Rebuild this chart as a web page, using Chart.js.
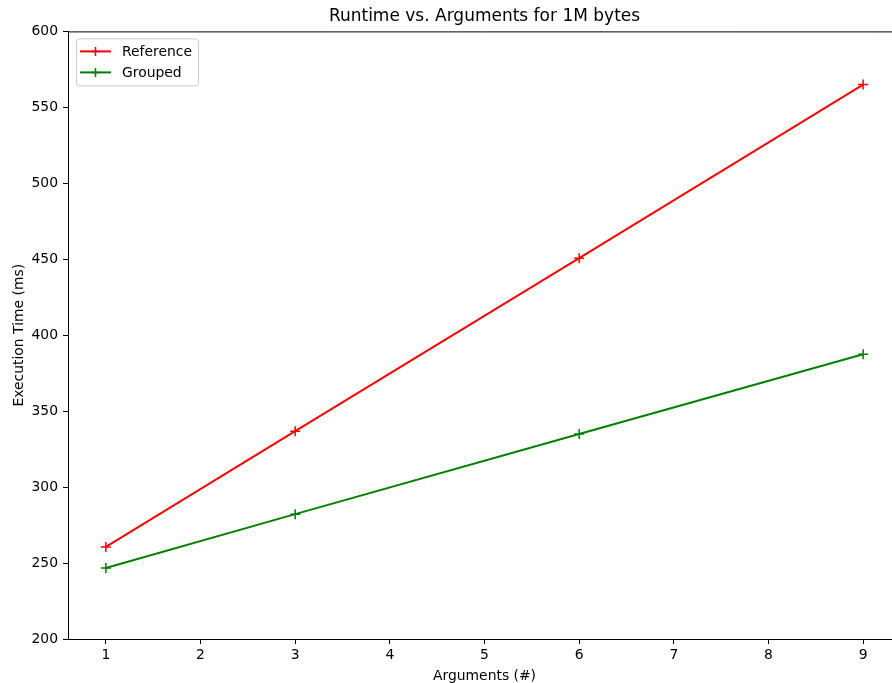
<!DOCTYPE html>
<html>
<head>
<meta charset="utf-8">
<script src="https://cdn.jsdelivr.net/npm/chart.js@4.4.0/dist/chart.umd.min.js"></script>
<style>
  html, body { margin: 0; padding: 0; background: #fff; overflow: hidden; width: 892px; height: 683px; }
  #wrap { width: 892px; height: 683px; overflow: hidden; position: relative; }
  #c { display: block; position: absolute; left: 0; top: 0; width: 901px !important; height: 683px !important; max-width: none; }
</style>
</head>
<body>
<div id="wrap"><canvas id="c" width="901" height="683" style="width:901px;height:683px"></canvas></div>
<script>
const argsX = [1, 3, 6, 9];
const referenceMs = [260.6, 336.8, 450.7, 565.0];
const groupedMs = [246.7, 282.2, 334.9, 387.5];
const xTicks = [1, 2, 3, 4, 5, 6, 7, 8, 9];
const yTicks = [200, 250, 300, 350, 400, 450, 500, 550, 600];
const seriesNames = ['Reference', 'Grouped'];
const seriesColors = ['#ff0000', '#008000'];

const FONT = "'DejaVu Sans', sans-serif";

const topSpine = {
  id: 'topSpine',
  afterDraw(chart) {
    const { ctx, chartArea } = chart;
    ctx.save();
    ctx.strokeStyle = '#000';
    ctx.lineWidth = 1;
    ctx.beginPath();
    ctx.moveTo(chartArea.left, chartArea.top + 0.5);
    ctx.lineTo(chartArea.right, chartArea.top + 0.5);
    ctx.stroke();
    ctx.restore();
  }
};

const boxLegend = {
  id: 'boxLegend',
  afterDraw(chart) {
    const { ctx, chartArea } = chart;
    const x0 = chartArea.left + 8, y0 = chartArea.top + 7;
    const w = 122, h = 47;
    ctx.save();
    ctx.fillStyle = 'rgba(255,255,255,0.8)';
    ctx.strokeStyle = '#cccccc';
    ctx.lineWidth = 1;
    ctx.beginPath();
    ctx.roundRect(x0 + 0.5, y0 + 0.5, w, h, 3);
    ctx.fill();
    ctx.stroke();
    chart.data.datasets.forEach((ds, i) => {
      const y = y0 + 13 + i * 21;
      ctx.strokeStyle = ds.borderColor;
      ctx.lineWidth = 2;
      ctx.beginPath();
      ctx.moveTo(x0 + 4, y);
      ctx.lineTo(x0 + 35, y);
      ctx.stroke();
      ctx.lineWidth = 1.5;
      ctx.beginPath();
      ctx.moveTo(x0 + 19.5 - 4.5, y);
      ctx.lineTo(x0 + 19.5 + 4.5, y);
      ctx.moveTo(x0 + 19.5, y - 4.5);
      ctx.lineTo(x0 + 19.5, y + 4.5);
      ctx.stroke();
      ctx.fillStyle = '#000';
      ctx.font = '13.9px ' + FONT;
      ctx.textBaseline = 'middle';
      ctx.textAlign = 'left';
      ctx.fillText(ds.label, x0 + 46, y + 1);
    });
    ctx.restore();
  }
};

new Chart(document.getElementById('c'), {
  type: 'line',
  data: {
    datasets: [
      {
        label: seriesNames[0],
        data: argsX.map((x, i) => ({ x, y: referenceMs[i] })),
        borderColor: seriesColors[0],
        backgroundColor: seriesColors[0],
        borderWidth: 2,
        pointStyle: 'cross',
        pointRadius: 5,
        pointBorderWidth: 1.5,
        tension: 0,
        fill: false
      },
      {
        label: seriesNames[1],
        data: argsX.map((x, i) => ({ x, y: groupedMs[i] })),
        borderColor: seriesColors[1],
        backgroundColor: seriesColors[1],
        borderWidth: 2,
        pointStyle: 'cross',
        pointRadius: 5,
        pointBorderWidth: 1.5,
        tension: 0,
        fill: false
      }
    ]
  },
  options: {
    responsive: false,
    maintainAspectRatio: false,
    animation: false,
    clip: false,
    layout: { autoPadding: false, padding: { left: 0, right: 0, top: 0, bottom: 0 } },
    plugins: {
      legend: { display: false },
      tooltip: { enabled: false },
      title: {
        display: true,
        text: 'Runtime vs. Arguments for 1M bytes',
        fullSize: false,
        color: '#000',
        font: { family: FONT, size: 17, weight: 'normal', lineHeight: 1.2 },
        padding: { top: 6, bottom: 5 }
      }
    },
    scales: {
      x: {
        type: 'linear',
        min: 0.6,
        max: 9.4,
        afterBuildTicks(scale) { scale.ticks = xTicks.map(v => ({ value: v })); },
        afterFit(scale) { scale.height = 44; },
        grid: { drawOnChartArea: false, drawTicks: true, tickLength: 5, color: '#000', tickWidth: 1 },
        border: { display: true, color: '#000', width: 1 },
        ticks: { color: '#000', font: { family: FONT, size: 13.9 }, padding: 3, maxRotation: 0, autoSkip: false },
        title: { display: true, text: 'Arguments (#)', color: '#000', font: { family: FONT, size: 13.9 }, padding: { top: 0, bottom: -2 } }
      },
      y: {
        type: 'linear',
        min: 200,
        max: 600,
        afterBuildTicks(scale) { scale.ticks = yTicks.map(v => ({ value: v })); },
        afterFit(scale) { scale.width = 68; },
        grid: { drawOnChartArea: false, drawTicks: true, tickLength: 5, color: '#000', tickWidth: 1 },
        border: { display: true, color: '#000', width: 1 },
        ticks: { color: '#000', font: { family: FONT, size: 13.9 }, padding: 5, autoSkip: false },
        title: { display: true, text: 'Execution Time (ms)', color: '#000', font: { family: FONT, size: 13.9 }, padding: { top: 11, bottom: 0 } }
      }
    }
  },
  plugins: [topSpine, boxLegend]
});
</script>
</body>
</html>
